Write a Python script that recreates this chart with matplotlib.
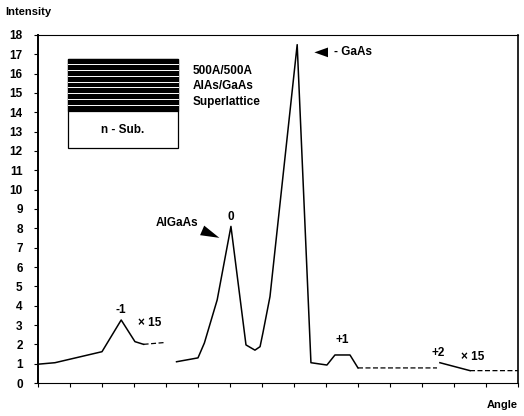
import numpy as np
import matplotlib.pyplot as plt
from matplotlib.patches import Rectangle

plt.rcParams['font.family'] = ['Liberation Sans', 'DejaVu Sans']

# main (solid) trace, NaN = gap in the scan
angle = [0.05, 0.53, 2.0, 2.6, 3.03, 3.3, np.nan,
         4.33, 5.0, 5.2, 5.6, 6.03, 6.5, 6.78, 6.94, 7.03, 7.25, 8.1, 8.53,
         9.03, 9.28, 9.75, 10.0, np.nan, 12.56, 13.5]
intensity = [0.98, 1.05, 1.62, 3.26, 2.14, 2.0, np.nan,
             1.1, 1.3, 2.07, 4.3, 8.1, 1.97, 1.7, 1.88, 2.6, 4.47, 17.5, 1.05,
             0.93, 1.45, 1.45, 0.78, np.nan, 1.05, 0.64]

# faint (dashed) pieces of the trace
faint_angle = [3.3, 4.0, np.nan, 10.0, 12.47, np.nan, 13.5, 15.0]
faint_intensity = [2.0, 2.1, np.nan, 0.78, 0.78, np.nan, 0.64, 0.64]

yticks = list(range(0, 19))
xticks = list(range(0, 16))


def main():
    fig = plt.figure(figsize=(5.24, 4.16), dpi=100)
    ax = fig.add_axes([0.0725, 0.0793, 0.916, 0.8366])

    ax.plot(angle, intensity, color='black', lw=1.1)
    ax.plot(faint_angle, faint_intensity, color='black', lw=0.9, ls=(0, (4, 2)))

    ax.set_xlim(0, 15)
    ax.set_ylim(0, 18)
    ax.set_yticks(yticks)
    ax.set_xticks(xticks)
    ax.set_xticklabels([])
    ax.tick_params(axis='both', direction='out', length=3, width=0.8,
                   labelsize=8.5, pad=8)
    for lab in ax.get_yticklabels():
        lab.set_fontweight('bold')
    for s in ax.spines.values():
        s.set_linewidth(0.8)
    ax.spines['left'].set_linewidth(1.4)
    ax.spines['right'].set_linewidth(1.2)

    fig.text(0.01, 0.972, 'Intensity', fontsize=8, fontweight='bold', va='center')
    fig.text(0.988, 0.027, 'Angle', fontsize=8, fontweight='bold',
             ha='right', va='center')

    # peak labels
    kw = dict(fontsize=8.5, fontweight='bold', ha='center', va='center')
    ax.text(2.6, 3.8, '-1', **kw)
    ax.text(3.5, 3.1, '× 15', **kw)
    ax.text(6.03, 8.6, '0', **kw)
    ax.text(9.5, 2.2, '+1', **kw)
    ax.text(12.5, 1.55, '+2', **kw)
    ax.text(13.6, 1.35, '× 15', **kw)
    ax.text(4.35, 8.3, 'AlGaAs', **kw)
    ax.text(9.25, 17.1, '- GaAs', fontsize=8.5, fontweight='bold',
            ha='left', va='center')

    # arrow heads
    ax.annotate('', xy=(5.75, 7.45), xytext=(5.05, 7.95),
                arrowprops=dict(arrowstyle='wedge,tail_width=0.75',
                                color='black', lw=0))
    ax.annotate('', xy=(8.55, 17.1), xytext=(9.15, 17.1),
                arrowprops=dict(arrowstyle='wedge,tail_width=0.7',
                                color='black', lw=0))

    # inset: superlattice sketch (axes fraction)
    x0, x1 = 0.0625, 0.2915
    yb, ys, yt = 0.674, 0.783, 0.932
    ax.add_patch(Rectangle((x0, yb), x1 - x0, yt - yb, transform=ax.transAxes,
                           fill=False, ec='black', lw=0.9))
    ax.add_patch(Rectangle((x0, ys), x1 - x0, yt - ys, transform=ax.transAxes,
                           fc='black', ec='black', lw=0.9))
    for k in range(1, 9):
        yy = ys + (yt - ys) * k / 9.0
        ax.plot([x0, x1], [yy, yy], transform=ax.transAxes, color='white', lw=0.7)
    ax.text((x0 + x1) / 2, 0.728, 'n - Sub.', transform=ax.transAxes,
            fontsize=8.5, fontweight='bold', ha='center', va='center')
    ax.text(0.323, 0.853, '500A/500A\nAlAs/GaAs\nSuperlattice',
            transform=ax.transAxes, fontsize=8.5, fontweight='bold',
            ha='left', va='center', linespacing=1.4)

    fig.savefig('out.png', dpi=100)


if __name__ == '__main__':
    main()
